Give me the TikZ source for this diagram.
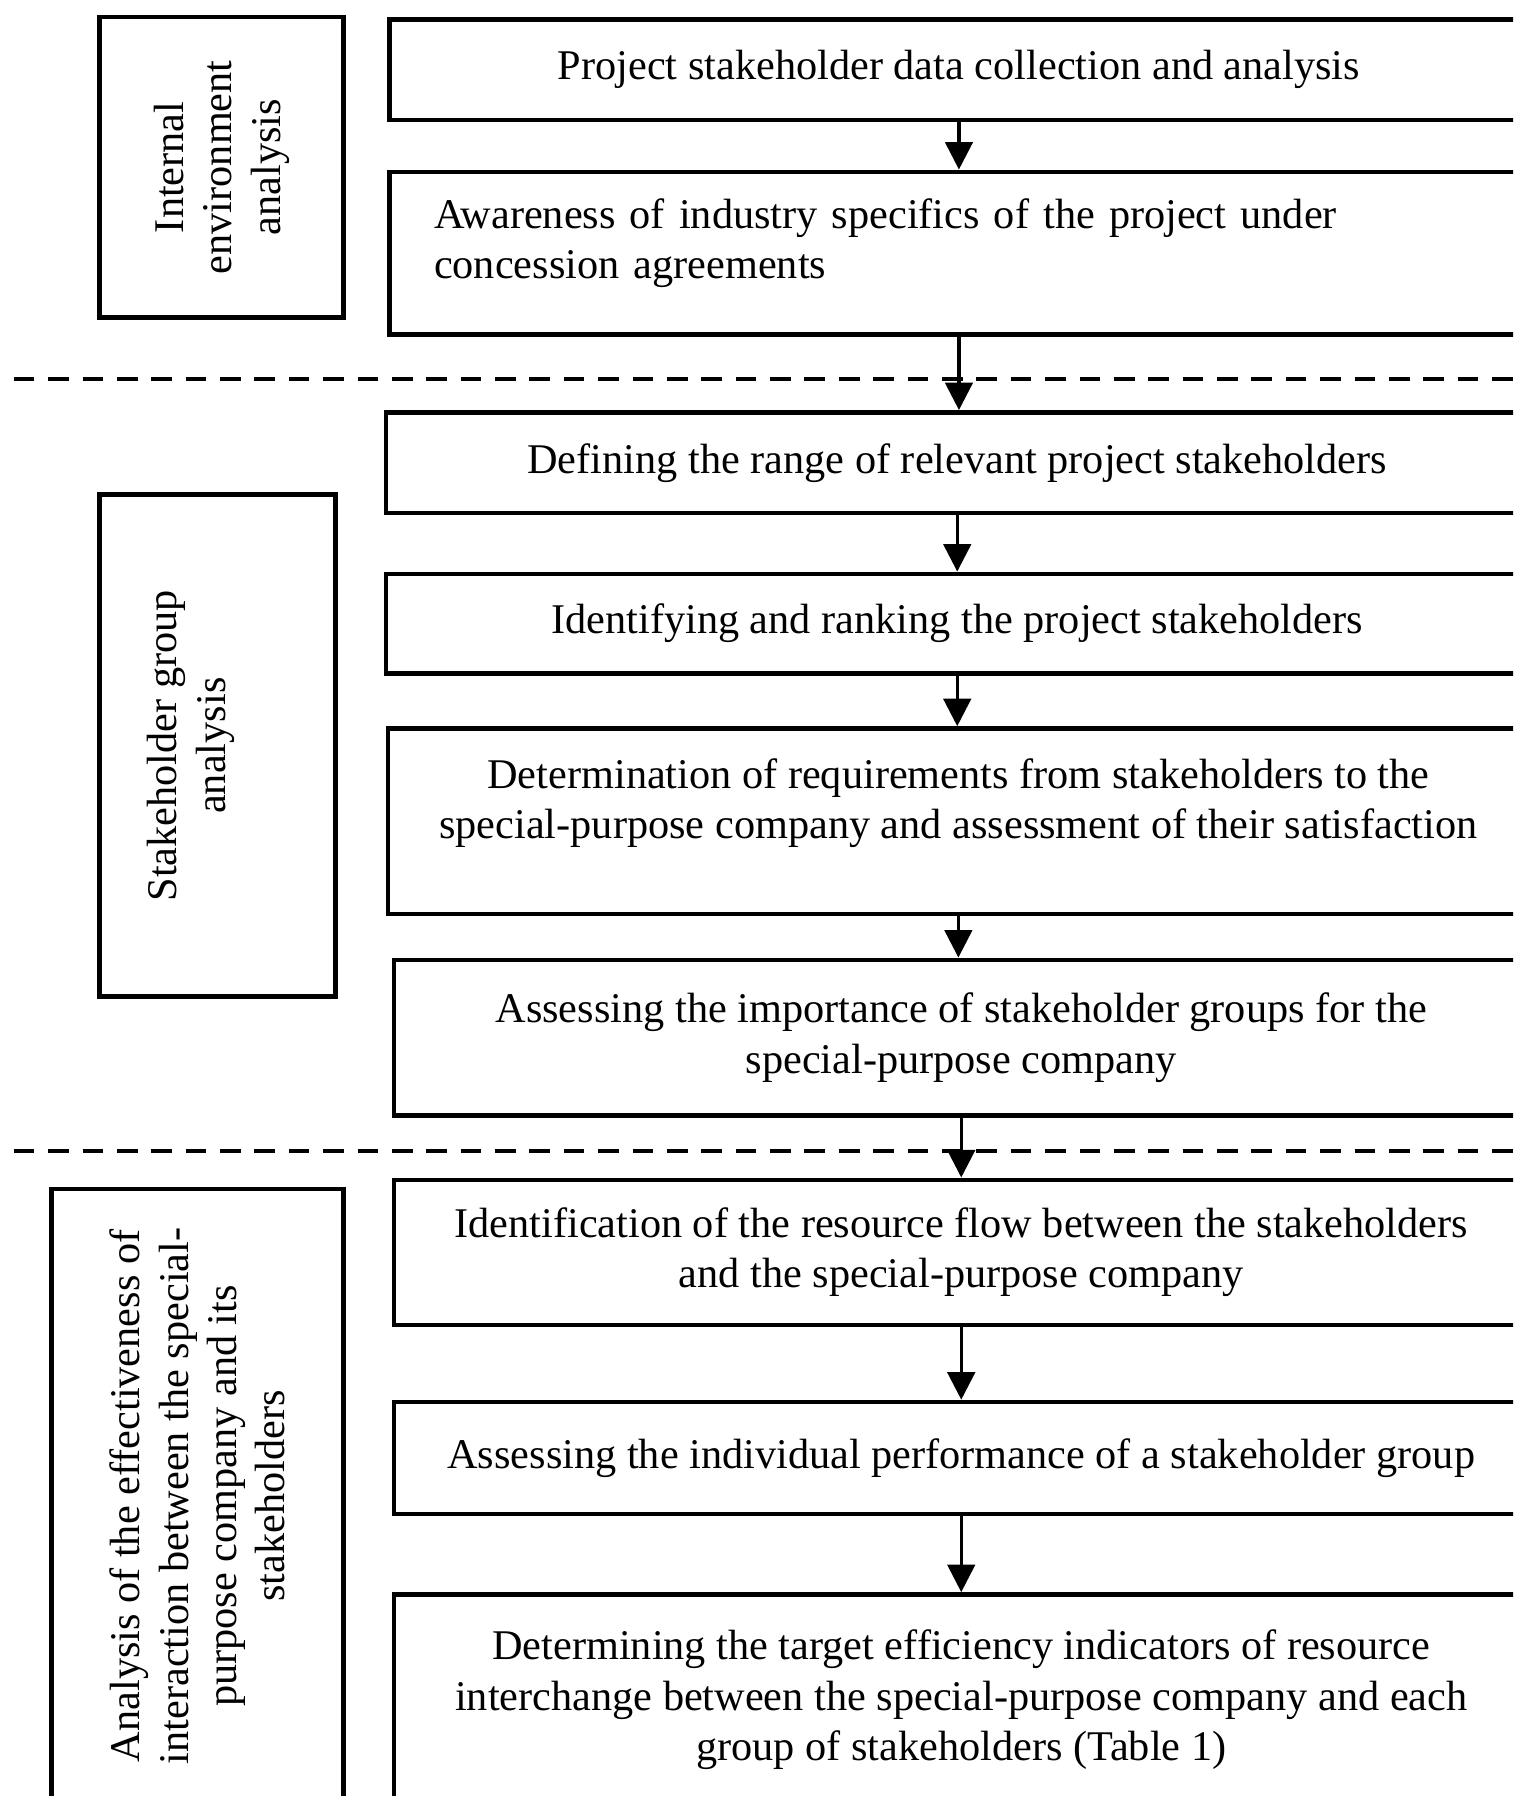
\documentclass[tikz,border=0pt]{standalone}
\usepackage{fontspec}
\setmainfont{Liberation Serif}
\usetikzlibrary{arrows.meta}
\begin{document}
\begin{tikzpicture}[x=0.01cm, y=-0.01cm,
  stepbox/.style={draw, line width=1.1pt, anchor=north west, align=center, inner sep=0pt, font=\fontsize{10.5}{12.5}\selectfont},
  sidebox/.style={draw, line width=1.1pt, rotate=90, align=center, inner sep=0pt, font=\fontsize{10.5}{12}\selectfont},
  steparrow/.style={line width=0.8pt, -{Triangle[length=0.24cm, width=0.24cm]}},
  divider/.style={line width=1pt, dash pattern=on 0.18cm off 0.12cm}]
\useasboundingbox (0,0) rectangle (1321,1568);
\clip (0,0) rectangle (1321,1568);
% stage boxes on the left
\node[sidebox, minimum width=2.62cm, minimum height=2.13cm] (internal) at (193.5,146) {Internal\\environment\\analysis};
\node[sidebox, minimum width=4.38cm, minimum height=2.06cm] (stakegroup) at (190,651) {Stakeholder group\\analysis\\\strut};
\node[sidebox, minimum width=5.36cm, minimum height=2.55cm] (effect) at (172.5,1306) {Analysis of the effectiveness of\\interaction between the special-\\purpose company and its\\stakeholders};
% separators
\draw[divider] (12,331) -- (1321,331);
\draw[divider] (12,1005) -- (1321,1005);
% steps
\node[stepbox, minimum width=9.94cm, minimum height=0.88cm] (collect) at (338,15) {Project stakeholder data collection and analysis};
\node[stepbox, minimum width=9.94cm, minimum height=1.42cm, text width=9.16cm, align=left, inner xsep=0.39cm] (aware) at (338,148) {Awareness of industry specifics of the project under\\concession agreements\\[-9pt]\strut};
\node[stepbox, minimum width=9.97cm, minimum height=0.88cm] (range) at (335,358) {Defining the range of relevant project stakeholders};
\node[stepbox, minimum width=9.97cm, minimum height=0.87cm] (rank) at (335,499) {Identifying and ranking the project stakeholders};
\node[stepbox, minimum width=9.95cm, minimum height=1.62cm] (require) at (337,634) {Determination of requirements from stakeholders to the\\special-purpose company and assessment of their satisfaction\\[-5pt]\strut};
\node[stepbox, minimum width=9.90cm, minimum height=1.36cm] (importance) at (342,836) {Assessing the importance of stakeholder groups for the\\special-purpose company};
\node[stepbox, minimum width=9.90cm, minimum height=1.27cm] (resflow) at (342,1028) {Identification of the resource flow between the stakeholders\\and the special-purpose company};
\node[stepbox, minimum width=9.90cm, minimum height=0.98cm] (perform) at (342,1222) {Assessing the individual performance of a stakeholder group};
\node[stepbox, minimum width=9.90cm, minimum height=1.84cm] (target) at (342,1390) {Determining the target efficiency indicators of resource\\interchange between the special-purpose company and each\\group of stakeholders (Table 1)};
% arrows
\draw[steparrow] (collect.south) -- (collect.south |- aware.north);
\draw[steparrow] (aware.south) -- (aware.south |- range.north);
\draw[steparrow] (range.south) -- (range.south |- rank.north);
\draw[steparrow] (rank.south) -- (rank.south |- require.north);
\draw[steparrow] (require.south) -- (require.south |- importance.north);
\draw[steparrow] (importance.south) -- (importance.south |- resflow.north);
\draw[steparrow] (resflow.south) -- (resflow.south |- perform.north);
\draw[steparrow] (perform.south) -- (perform.south |- target.north);
\end{tikzpicture}
\end{document}
